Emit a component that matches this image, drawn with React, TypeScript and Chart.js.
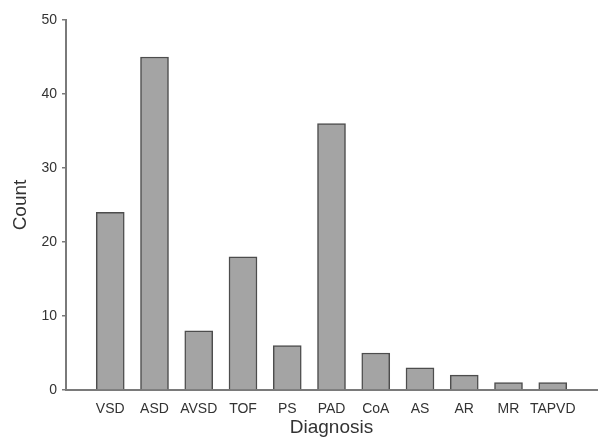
import React, { useEffect, useRef } from "react";
import { Chart, registerables } from "chart.js";

Chart.register(...registerables);

const categories = ["VSD", "ASD", "AVSD", "TOF", "PS", "PAD", "CoA", "AS", "AR", "MR", "TAPVD"];
const counts = [24, 45, 8, 18, 6, 36, 5, 3, 2, 1, 1];
const yTicks = [0, 10, 20, 30, 40, 50];

const FONT = "'Liberation Sans', Arial, Helvetica, sans-serif";
const AXIS = "#7a7a7a";

export default function App() {
  const ref = useRef<HTMLCanvasElement | null>(null);

  useEffect(() => {
    if (!ref.current) return;
    const labels = ["", ...categories, ""];
    const data = [null, ...counts, null];
    const chart = new Chart(ref.current, {
      type: "bar",
      data: {
        labels,
        datasets: [
          {
            data,
            backgroundColor: "#a4a4a4",
            borderColor: "#4d4d4d",
            borderWidth: 1.5,
            barThickness: 28,
          },
        ],
      },
      options: {
        responsive: false,
        animation: false,
        layout: { padding: { left: 8, top: 20, right: 1, bottom: 3 } },
        plugins: { legend: { display: false }, tooltip: { enabled: false } },
        scales: {
          x: {
            type: "category",
            offset: false,
            grid: { display: false, drawTicks: false },
            border: { display: true, color: AXIS, width: 2 },
            ticks: {
              autoSkip: false,
              maxRotation: 0,
              padding: 11,
              color: "#333",
              font: { family: FONT, size: 14 },
            },
            title: {
              display: true,
              text: "Diagnosis",
              color: "#333",
              font: { family: FONT, size: 19 },
              padding: { top: 0, bottom: -2 },
            },
            afterFit: (s: any) => {
              s.height = 47;
              s.paddingLeft = 0;
              s.paddingRight = 0;
            },
          },
          y: {
            min: 0,
            max: 50,
            afterBuildTicks: (s: any) => {
              s.ticks = yTicks.map((v) => ({ value: v }));
            },
            grid: {
              drawOnChartArea: false,
              drawTicks: true,
              tickLength: 4,
              color: AXIS,
              lineWidth: 1.5,
            },
            border: { display: true, color: AXIS, width: 2 },
            ticks: {
              padding: 5,
              color: "#333",
              font: { family: FONT, size: 14 },
            },
            title: {
              display: true,
              text: "Count",
              color: "#333",
              font: { family: FONT, size: 19 },
              padding: { top: 1, bottom: 0 },
            },
            afterFit: (s: any) => {
              s.width = 58;
              s.paddingTop = 0;
              s.paddingBottom = 0;
            },
          },
        },
      },
    });
    return () => chart.destroy();
  }, []);

  return (
    <div style={{ position: "fixed", left: 0, top: 0, width: 598, height: 440, background: "#fff" }}>
      <canvas ref={ref} width={598} height={440} style={{ display: "block" }} />
    </div>
  );
}
